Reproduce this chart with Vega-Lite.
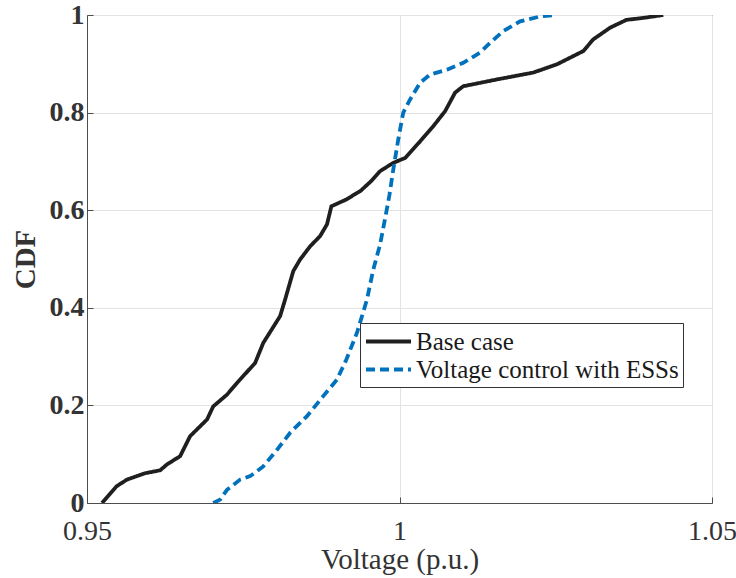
{
  "$schema": "https://vega.github.io/schema/vega-lite/v6.json",
  "width": 625,
  "height": 488,
  "autosize": {"type": "none"},
  "padding": {"left": 87, "top": 15, "right": 24, "bottom": 75},
  "background": "white",
  "config": {
    "view": {"stroke": "#4d4d4d", "strokeWidth": 1},
    "font": "Liberation Serif",
    "axis": {
      "labelFont": "Liberation Serif",
      "titleFont": "Liberation Serif",
      "labelColor": "#333333",
      "titleColor": "#333333",
      "domainColor": "#4d4d4d",
      "tickColor": "#4d4d4d",
      "gridColor": "#e3e3e3",
      "gridWidth": 1
    },
    "legend": {"labelFont": "Liberation Serif"}
  },
  "data": {
    "values": [
      {"series": "Base case", "v": 0.9524, "cdf": 0.0},
      {"series": "Base case", "v": 0.9547, "cdf": 0.034},
      {"series": "Base case", "v": 0.9564, "cdf": 0.048},
      {"series": "Base case", "v": 0.9593, "cdf": 0.061},
      {"series": "Base case", "v": 0.9617, "cdf": 0.067},
      {"series": "Base case", "v": 0.9628, "cdf": 0.079},
      {"series": "Base case", "v": 0.9649, "cdf": 0.096},
      {"series": "Base case", "v": 0.9665, "cdf": 0.137},
      {"series": "Base case", "v": 0.9692, "cdf": 0.171},
      {"series": "Base case", "v": 0.9702, "cdf": 0.198},
      {"series": "Base case", "v": 0.9724, "cdf": 0.222},
      {"series": "Base case", "v": 0.974, "cdf": 0.246},
      {"series": "Base case", "v": 0.9769, "cdf": 0.287},
      {"series": "Base case", "v": 0.9782, "cdf": 0.328},
      {"series": "Base case", "v": 0.9809, "cdf": 0.383},
      {"series": "Base case", "v": 0.9817, "cdf": 0.417},
      {"series": "Base case", "v": 0.983, "cdf": 0.475},
      {"series": "Base case", "v": 0.9841, "cdf": 0.499},
      {"series": "Base case", "v": 0.9857, "cdf": 0.526},
      {"series": "Base case", "v": 0.9873, "cdf": 0.547},
      {"series": "Base case", "v": 0.9884, "cdf": 0.571},
      {"series": "Base case", "v": 0.9891, "cdf": 0.608},
      {"series": "Base case", "v": 0.9915, "cdf": 0.622},
      {"series": "Base case", "v": 0.9938, "cdf": 0.64},
      {"series": "Base case", "v": 0.9955, "cdf": 0.66},
      {"series": "Base case", "v": 0.9969, "cdf": 0.68},
      {"series": "Base case", "v": 0.999, "cdf": 0.697},
      {"series": "Base case", "v": 1.0009, "cdf": 0.707},
      {"series": "Base case", "v": 1.0033, "cdf": 0.741},
      {"series": "Base case", "v": 1.0054, "cdf": 0.772},
      {"series": "Base case", "v": 1.0073, "cdf": 0.803},
      {"series": "Base case", "v": 1.0089, "cdf": 0.841},
      {"series": "Base case", "v": 1.0102, "cdf": 0.854},
      {"series": "Base case", "v": 1.0156, "cdf": 0.868},
      {"series": "Base case", "v": 1.0214, "cdf": 0.882},
      {"series": "Base case", "v": 1.0252, "cdf": 0.899},
      {"series": "Base case", "v": 1.0294, "cdf": 0.926},
      {"series": "Base case", "v": 1.031, "cdf": 0.95},
      {"series": "Base case", "v": 1.0337, "cdf": 0.974},
      {"series": "Base case", "v": 1.0363, "cdf": 0.99},
      {"series": "Base case", "v": 1.039, "cdf": 0.994},
      {"series": "Base case", "v": 1.0422, "cdf": 1.0},
      {"series": "Voltage control with ESSs", "v": 0.9702, "cdf": 0.0},
      {"series": "Voltage control with ESSs", "v": 0.9713, "cdf": 0.007},
      {"series": "Voltage control with ESSs", "v": 0.9724, "cdf": 0.027},
      {"series": "Voltage control with ESSs", "v": 0.9745, "cdf": 0.048},
      {"series": "Voltage control with ESSs", "v": 0.9761, "cdf": 0.055},
      {"series": "Voltage control with ESSs", "v": 0.9782, "cdf": 0.075},
      {"series": "Voltage control with ESSs", "v": 0.9804, "cdf": 0.109},
      {"series": "Voltage control with ESSs", "v": 0.9825, "cdf": 0.144},
      {"series": "Voltage control with ESSs", "v": 0.9852, "cdf": 0.178},
      {"series": "Voltage control with ESSs", "v": 0.9878, "cdf": 0.219},
      {"series": "Voltage control with ESSs", "v": 0.99, "cdf": 0.253},
      {"series": "Voltage control with ESSs", "v": 0.9915, "cdf": 0.294},
      {"series": "Voltage control with ESSs", "v": 0.9932, "cdf": 0.349},
      {"series": "Voltage control with ESSs", "v": 0.9948, "cdf": 0.417},
      {"series": "Voltage control with ESSs", "v": 0.9958, "cdf": 0.478},
      {"series": "Voltage control with ESSs", "v": 0.9969, "cdf": 0.53},
      {"series": "Voltage control with ESSs", "v": 0.9978, "cdf": 0.59},
      {"series": "Voltage control with ESSs", "v": 0.9984, "cdf": 0.632},
      {"series": "Voltage control with ESSs", "v": 0.999, "cdf": 0.683},
      {"series": "Voltage control with ESSs", "v": 0.9998, "cdf": 0.745},
      {"series": "Voltage control with ESSs", "v": 1.0006, "cdf": 0.8},
      {"series": "Voltage control with ESSs", "v": 1.0017, "cdf": 0.827},
      {"series": "Voltage control with ESSs", "v": 1.0033, "cdf": 0.861},
      {"series": "Voltage control with ESSs", "v": 1.0049, "cdf": 0.878},
      {"series": "Voltage control with ESSs", "v": 1.0076, "cdf": 0.888},
      {"series": "Voltage control with ESSs", "v": 1.0102, "cdf": 0.902},
      {"series": "Voltage control with ESSs", "v": 1.0129, "cdf": 0.923},
      {"series": "Voltage control with ESSs", "v": 1.0145, "cdf": 0.943},
      {"series": "Voltage control with ESSs", "v": 1.0166, "cdf": 0.967},
      {"series": "Voltage control with ESSs", "v": 1.0193, "cdf": 0.987},
      {"series": "Voltage control with ESSs", "v": 1.0225, "cdf": 0.997},
      {"series": "Voltage control with ESSs", "v": 1.0249, "cdf": 1.0}
    ]
  },
  "mark": {"type": "line", "strokeWidth": 3.8, "clip": true},
  "encoding": {
    "x": {
      "field": "v",
      "type": "quantitative",
      "scale": {"domain": [0.95, 1.05], "nice": false, "zero": false},
      "axis": {
        "values": [0.95, 1.0, 1.05],
        "format": ".2~f",
        "title": "Voltage (p.u.)",
        "labelFontSize": 28,
        "titleFontSize": 29,
        "titleFontWeight": "normal",
        "tickSize": -6,
        "labelPadding": 20,
        "titlePadding": 0,
        "labelFlush": false
      }
    },
    "y": {
      "field": "cdf",
      "type": "quantitative",
      "scale": {"domain": [0, 1], "nice": false},
      "axis": {
        "values": [0, 0.2, 0.4, 0.6, 0.8, 1],
        "format": ".1~f",
        "title": "CDF",
        "labelFontSize": 28,
        "labelFontWeight": "bold",
        "titleFontSize": 29,
        "titleFontWeight": "bold",
        "tickSize": -6,
        "labelPadding": 9,
        "titlePadding": 9,
        "labelFlush": false
      }
    },
    "color": {
      "field": "series",
      "type": "nominal",
      "scale": {"domain": ["Base case", "Voltage control with ESSs"], "range": ["#1f1f1f", "#0072BD"]},
      "legend": {
        "title": null,
        "orient": "none",
        "legendX": 273,
        "legendY": 308,
        "direction": "vertical",
        "symbolType": "M-1,0H2.6",
        "symbolSize": 625,
        "symbolStrokeWidth": 3.8,
        "labelFont": "Liberation Serif",
        "labelFontSize": 25,
        "labelColor": "#1a1a1a",
        "labelLimit": 0,
        "labelOffset": 23,
        "rowPadding": -3,
        "padding": 4,
        "strokeColor": "#333333",
        "fillColor": "white"
      }
    },
    "strokeDash": {
      "field": "series",
      "type": "nominal",
      "scale": {"domain": ["Base case", "Voltage control with ESSs"], "range": [[1, 0], [9, 5]]},
      "legend": null
    }
  }
}
